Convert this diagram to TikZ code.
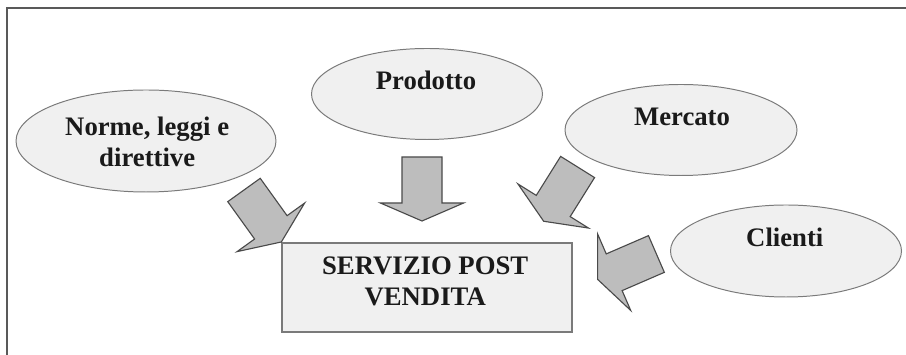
\documentclass[tikz,border=0pt]{standalone}
\usepackage{fontspec}
\setmainfont{Liberation Serif}
\usepackage{xcolor}
\definecolor{ovalfill}{HTML}{F0F0F0}
\definecolor{ovalline}{HTML}{7A7A7A}
\definecolor{arrowfill}{HTML}{BDBDBD}
\definecolor{arrowline}{HTML}{4A4A4A}
\definecolor{textcol}{HTML}{1A1A1A}
\usetikzlibrary{shapes.geometric}

\begin{document}
\begin{tikzpicture}[
  oval/.style={ellipse,draw=ovalline,fill=ovalfill,line width=0.7pt,inner sep=0pt},
  servicebox/.style={rectangle,draw=ovalline,fill=ovalfill,line width=1.5pt,minimum width=7.25cm,minimum height=2.225cm},
  caption/.style={text=textcol,font=\bfseries\fontsize{19}{22.5}\selectfont,align=center},
  blockarrow/.style={draw=arrowline,fill=arrowfill,line width=0.8pt,line join=miter}
]
\useasboundingbox (0,0) rectangle (22.65,-8.875);
% frame
\draw[line width=1.4pt,color=black!65] (22.65,-0.2) -- (0.175,-0.2) -- (0.175,-8.875);

% ellipses
\node[oval,minimum width=6.5cm,minimum height=2.55cm] (norme) at (3.65,-3.525) {};
\node[caption] (normetext) at (3.68,-3.55) {Norme, leggi e\\direttive};
\node[oval,minimum width=5.775cm,minimum height=2.275cm] (prodotto) at (10.675,-2.35) {};
\node[caption] (prodottotext) at (10.65,-2.0) {Prodotto};
\node[oval,minimum width=5.8cm,minimum height=2.275cm] (mercato) at (17.025,-3.25) {};
\node[caption] (mercatotext) at (17.05,-2.925) {Mercato};
\node[oval,minimum width=5.775cm,minimum height=2.3cm] (clienti) at (19.65,-6.275) {};
\node[caption] (clientitext) at (19.62,-5.925) {Clienti};

% box
\node[servicebox] (servizio) at (10.675,-7.1875) {};
\node[caption] (serviziotext) at (10.63,-7.03) {SERVIZIO POST\\VENDITA};

% block arrows
\foreach \x/\y/\a in {6.1/-4.75/-54.3, 10.55/-3.925/-90, 14.44/-4.175/-122, 16.41/-6.35/203.4}
  \draw[blockarrow,shift={(\x,\y)},rotate=\a]
    (0,-0.5) -- (1.15,-0.5) -- (1.15,-1.04) -- (1.6,0) -- (1.15,1.04) -- (1.15,0.5) -- (0,0.5) -- cycle;
\end{tikzpicture}
\end{document}
